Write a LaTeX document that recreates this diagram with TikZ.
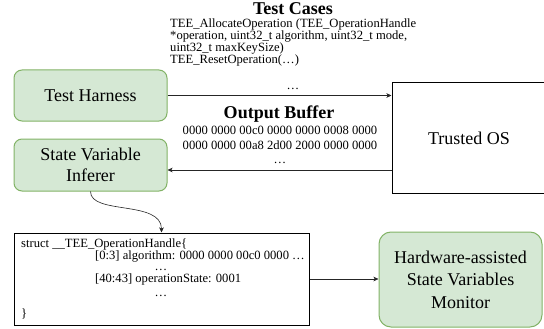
\documentclass[tikz,border=0pt]{standalone}
\usepackage{fontspec}
\setmainfont{Liberation Serif}
\usetikzlibrary{arrows.meta}
\definecolor{gfill}{HTML}{D5E8D4}
\definecolor{gline}{HTML}{82B366}
\begin{document}
\begin{tikzpicture}[x=1pt,y=-1pt,
  gbox/.style={draw=gline, fill=gfill, line width=1pt, rounded corners=8pt, align=center, font=\fontsize{18}{21}\selectfont, inner sep=0pt},
  kbox/.style={draw=black, line width=1pt, inner sep=0pt},
  arr/.style={draw=black!85, line width=0.6pt, -{Stealth[length=5pt,width=4.5pt,inset=1.2pt]}},
  code/.style={font=\fontsize{12.6}{15}\selectfont, inner sep=0pt, text height=9pt, text depth=3pt},
  ttl/.style={font=\fontsize{18}{21}\bfseries\selectfont, inner sep=0pt},
]
\useasboundingbox (0,0) rectangle (544,329);

\node[gbox, minimum width=153pt, minimum height=51pt] (th) at (90.5,95.5) {Test Harness};
\node[gbox, minimum width=153pt, minimum height=52pt] (inf) at (90.5,165) {State Variable\\Inferer};
\node[kbox, minimum width=154pt, minimum height=110pt, font=\fontsize{18}{21}\selectfont] (tos) at (469,138) {Trusted OS};
\node[kbox, minimum width=295pt, minimum height=92pt] (st) at (161.5,279) {};
\node[gbox, rounded corners=12pt, minimum width=163pt, minimum height=95pt, font=\fontsize{18}{22.5}\selectfont] (hw) at (460.5,279.5) {Hardware-assisted\\State Variables\\Monitor};

\node[ttl] (tct) at (293,9) {Test Cases};
\node[code, anchor=west] (tc1) at (170,25) {TEE\_AllocateOperation (TEE\_OperationHandle};
\node[code, anchor=west] (tc2) at (170,37) {*operation, uint32\_t algorithm, uint32\_t mode,};
\node[code, anchor=west] (tc3) at (170,49) {uint32\_t maxKeySize)};
\node[code, anchor=west] (tc4) at (170,61) {TEE\_ResetOperation(…)};
\node[code] (tc5) at (293,86) {…};

\node[ttl] (obt) at (279,114) {Output Buffer};
\node[code] (ob1) at (280,131) {0000 0000 00c0 0000 0000 0008 0000};
\node[code] (ob2) at (280,146.5) {0000 0000 00a8 2d00 2000 0000 0000};
\node[code] (ob3) at (280,161) {…};

\node[code, anchor=west] (s1) at (21,244) {struct \_\_TEE\_OperationHandle\{};
\node[code, anchor=west] (s2) at (95,256) {[0:3] algorithm: 0000 0000 00c0 0000 …};
\node[code] (s3) at (161,267) {…};
\node[code, anchor=west] (s4) at (95,279) {[40:43] operationState: 0001};
\node[code] (s5) at (161,293) {…};
\node[code, anchor=west] (s6) at (21,314) {\}};

\draw[arr] (th.east) -- (th.east -| tos.west);
\draw[arr] (tos.west |- 0,170) -- (inf.east |- 0,170);
\draw[arr] (inf.south) .. controls (90.5,215) and (161.5,200) .. (st.north);
\draw[arr] (st.east) -- (st.east -| hw.west);
\end{tikzpicture}
\end{document}
